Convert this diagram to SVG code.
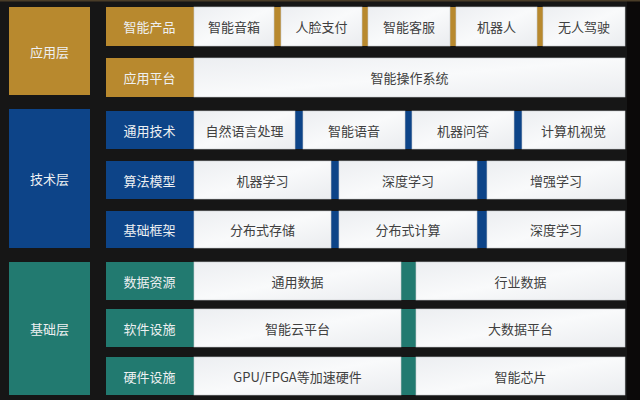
<svg xmlns="http://www.w3.org/2000/svg" width="640" height="400" viewBox="0 0 640 400">
<defs>
<linearGradient id="cg" x1="0" y1="0" x2="1" y2="1">
<stop offset="0" stop-color="#eceef1"/>
<stop offset="0.5" stop-color="#f9fafb"/>
<stop offset="1" stop-color="#eaecef"/>
</linearGradient>
<style>
text{font-family:"Noto Sans CJK SC","Noto Sans",sans-serif;font-size:13px;text-anchor:middle;dominant-baseline:central}
.cell{fill:url(#cg);stroke:#c9ccd1;stroke-width:0.6}
.ct{fill:#404040}
.lt{fill:#eef0f2}
.gold{fill:#b8892e}
.blue{fill:#0d4488}
.teal{fill:#227a70}
</style>
</defs>
<rect width="640" height="400" fill="#161616"/>
<rect x="627" y="0" width="13" height="400" fill="#0b0909"/>
<rect x="0" y="0" width="640" height="1.5" fill="#4a3d28"/>

<g id="layer-app">
<rect class="gold" x="9" y="7" width="81" height="88"/>
<text class="lt" x="49.5" y="51">应用层</text>
</g>
<g id="layer-tech">
<rect class="blue" x="9" y="109" width="81" height="139"/>
<text class="lt" x="49.5" y="178">技术层</text>
</g>
<g id="layer-base">
<rect class="teal" x="9" y="262" width="81" height="133"/>
<text class="lt" x="49.5" y="328">基础层</text>
</g>

<g id="row-products">
<rect class="gold" x="106" y="7" width="519" height="39"/>
<text class="lt" x="149.5" y="26.5">智能产品</text>
<rect class="cell" x="194" y="7" width="80" height="39"/><text class="ct" x="234" y="26.5">智能音箱</text>
<rect class="cell" x="281" y="7" width="81" height="39"/><text class="ct" x="321.5" y="26.5">人脸支付</text>
<rect class="cell" x="368" y="7" width="82" height="39"/><text class="ct" x="409" y="26.5">智能客服</text>
<rect class="cell" x="456" y="7" width="81" height="39"/><text class="ct" x="496.5" y="26.5">机器人</text>
<rect class="cell" x="543" y="7" width="82" height="39"/><text class="ct" x="584" y="26.5">无人驾驶</text>
</g>
<g id="row-platform">
<rect class="gold" x="106" y="58" width="88" height="39"/>
<text class="lt" x="149.5" y="77.5">应用平台</text>
<rect class="cell" x="194" y="58" width="431" height="39"/><text class="ct" x="409.5" y="77.5">智能操作系统</text>
</g>

<g id="row-general">
<rect class="blue" x="106" y="111" width="519" height="38"/>
<text class="lt" x="149.5" y="130">通用技术</text>
<rect class="cell" x="194" y="111" width="101" height="38"/><text class="ct" x="244.5" y="130">自然语言处理</text>
<rect class="cell" x="303" y="111" width="102" height="38"/><text class="ct" x="354" y="130">智能语音</text>
<rect class="cell" x="412" y="111" width="102" height="38"/><text class="ct" x="463" y="130">机器问答</text>
<rect class="cell" x="522" y="111" width="103" height="38"/><text class="ct" x="573.5" y="130">计算机视觉</text>
</g>
<g id="row-algo">
<rect class="blue" x="106" y="161" width="519" height="38"/>
<text class="lt" x="149.5" y="180">算法模型</text>
<rect class="cell" x="194" y="161" width="137" height="38"/><text class="ct" x="262.5" y="180">机器学习</text>
<rect class="cell" x="339" y="161" width="138" height="38"/><text class="ct" x="408" y="180">深度学习</text>
<rect class="cell" x="487" y="161" width="138" height="38"/><text class="ct" x="556" y="180">增强学习</text>
</g>
<g id="row-framework">
<rect class="blue" x="106" y="211" width="519" height="37"/>
<text class="lt" x="149.5" y="229.5">基础框架</text>
<rect class="cell" x="194" y="211" width="137" height="37"/><text class="ct" x="262.5" y="229.5">分布式存储</text>
<rect class="cell" x="339" y="211" width="138" height="37"/><text class="ct" x="408" y="229.5">分布式计算</text>
<rect class="cell" x="487" y="211" width="138" height="37"/><text class="ct" x="556" y="229.5">深度学习</text>
</g>

<g id="row-data">
<rect class="teal" x="106" y="262" width="519" height="38"/>
<text class="lt" x="149.5" y="281">数据资源</text>
<rect class="cell" x="194" y="262" width="207" height="38"/><text class="ct" x="297.5" y="281">通用数据</text>
<rect class="cell" x="416" y="262" width="209" height="38"/><text class="ct" x="520.5" y="281">行业数据</text>
</g>
<g id="row-software">
<rect class="teal" x="106" y="309" width="519" height="38"/>
<text class="lt" x="149.5" y="328">软件设施</text>
<rect class="cell" x="194" y="309" width="207" height="38"/><text class="ct" x="297.5" y="328">智能云平台</text>
<rect class="cell" x="416" y="309" width="209" height="38"/><text class="ct" x="520.5" y="328">大数据平台</text>
</g>
<g id="row-hardware">
<rect class="teal" x="106" y="357" width="519" height="38"/>
<text class="lt" x="149.5" y="376">硬件设施</text>
<rect class="cell" x="194" y="357" width="207" height="38"/><text class="ct" x="297.5" y="376">GPU/FPGA等加速硬件</text>
<rect class="cell" x="416" y="357" width="209" height="38"/><text class="ct" x="520.5" y="376">智能芯片</text>
</g>
<g id="connectors"/>
</svg>
